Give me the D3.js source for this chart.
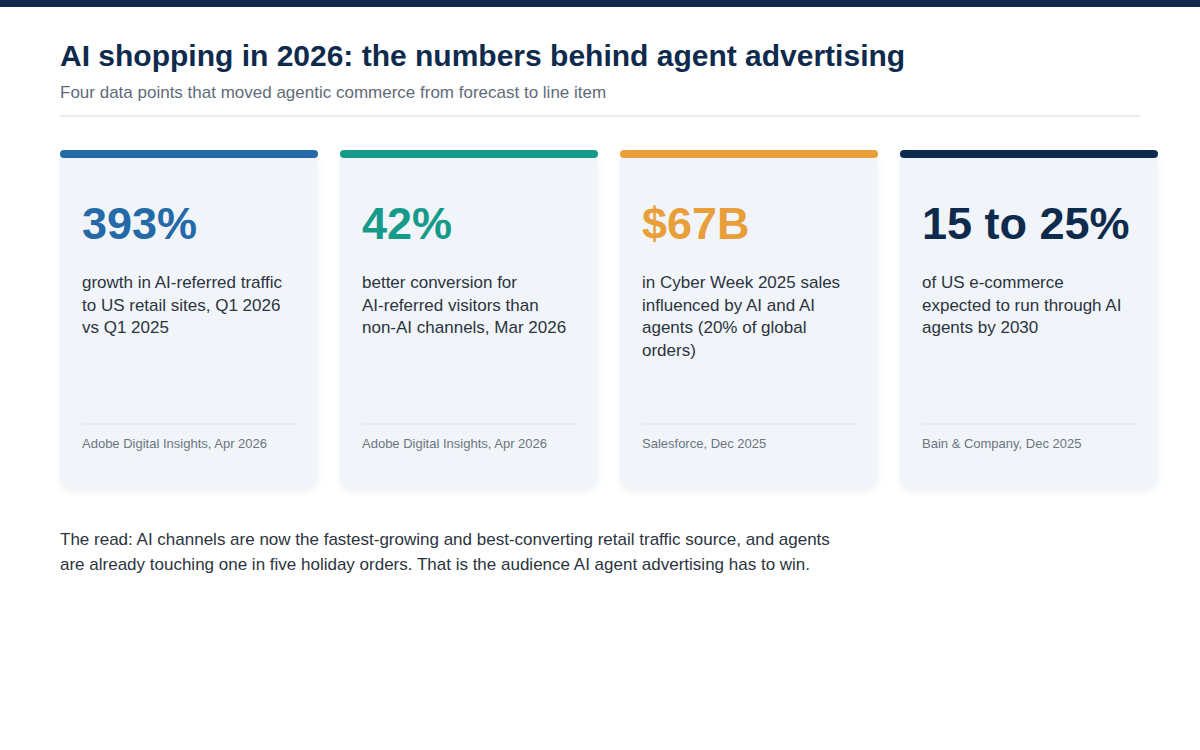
<!DOCTYPE html>
<html><head><meta charset="utf-8">
<script src="https://cdn.jsdelivr.net/npm/d3@7"></script>
<style>body{margin:0;background:#fff}svg{display:block;font-family:"Liberation Sans",Arial,sans-serif}</style>
</head><body><svg id="c" width="1200" height="750"></svg>
<script>
const values = ["393%", "42%", "$67B", "15 to 25%"];
const descriptions = [
  ["growth in AI-referred traffic", "to US retail sites, Q1 2026", "vs Q1 2025"],
  ["better conversion for", "AI-referred visitors than", "non-AI channels, Mar 2026"],
  ["in Cyber Week 2025 sales", "influenced by AI and AI", "agents (20% of global", "orders)"],
  ["of US e-commerce", "expected to run through AI", "agents by 2030"]
];
const sources = ["Adobe Digital Insights, Apr 2026", "Adobe Digital Insights, Apr 2026", "Salesforce, Dec 2025", "Bain & Company, Dec 2025"];
const colors = ["#2469a8", "#169a8a", "#e89f3a", "#0e2a4d"];
const idx = d3.range(values.length);

const svg = d3.select("#c");
svg.append("rect").attr("width",1200).attr("height",7).attr("fill","#0e2a4d");
svg.append("text").attr("x",60).attr("y",66).attr("font-size",30).attr("font-weight",700).attr("fill","#0e2a4d")
  .text("AI shopping in 2026: the numbers behind agent advertising");
svg.append("text").attr("x",60).attr("y",98).attr("font-size",17).attr("fill","#5f6b7a")
  .text("Four data points that moved agentic commerce from forecast to line item");
svg.append("line").attr("x1",60).attr("x2",1140).attr("y1",116).attr("y2",116).attr("stroke","#dfe3e8").attr("stroke-width",1.5);

const x = d3.scaleBand().domain(idx).range([60,1158]).paddingInner(22/280);
const defs = svg.append("defs");
const f = defs.append("filter").attr("id","sh").attr("x","-10%").attr("y","-10%").attr("width","120%").attr("height","130%");
f.append("feDropShadow").attr("dx",0).attr("dy",2).attr("stdDeviation",3).attr("flood-color","#000").attr("flood-opacity",0.05);

const g = svg.selectAll("g.card").data(idx).join("g").attr("class","card").attr("transform",i=>`translate(${x(i)},150)`);
const w = x.bandwidth();
g.append("rect").attr("width",w).attr("height",340).attr("rx",12).attr("fill","#f1f5f9").attr("filter","url(#sh)");
g.append("rect").attr("width",w).attr("height",8).attr("rx",4).attr("fill",i=>colors[i]);
g.append("text").attr("x",22).attr("y",89).attr("font-size",45).attr("font-weight",700).attr("fill",i=>colors[i]).text(i=>values[i]);
g.each(function(i){
  const t = d3.select(this).append("text").attr("x",22).attr("y",138).attr("font-size",17).attr("fill","#2b3440");
  descriptions[i].forEach((l,k)=>t.append("tspan").attr("x",22).attr("y",138+k*22.5).text(l));
});
g.append("line").attr("x1",22).attr("x2",w-22).attr("y1",274).attr("y2",274).attr("stroke","#dfe4ea").attr("stroke-width",1.2);
g.append("text").attr("x",22).attr("y",298).attr("font-size",13).attr("fill","#6b7480").text(i=>sources[i]);

const foot = ["The read: AI channels are now the fastest-growing and best-converting retail traffic source, and agents",
  "are already touching one in five holiday orders. That is the audience AI agent advertising has to win."];
svg.selectAll("text.foot").data(foot).join("text").attr("class","foot").attr("x",60).attr("y",(d,k)=>545+k*25)
  .attr("font-size",17).attr("fill","#2b3440").text(d=>d);
</script></body></html>
